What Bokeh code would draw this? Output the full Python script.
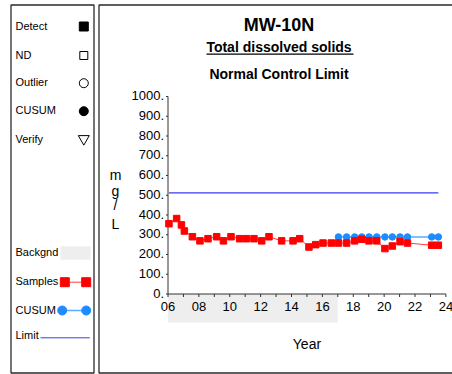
from bokeh.plotting import figure
from bokeh.models import Range1d
from bokeh.embed import file_html
from bokeh.resources import INLINE
from bokeh.core.properties import value

# ---------------- data ----------------
sample_years = [2006.06, 2006.56, 2006.87, 2007.06, 2007.58, 2008.07, 2008.59, 2009.15,
                2009.59, 2010.08, 2010.64, 2011.08, 2011.57, 2012.07, 2012.54, 2013.36,
                2014.10, 2014.53, 2015.13, 2015.57, 2016.04, 2016.58, 2017.04, 2017.57,
                2018.09, 2018.55, 2019.02, 2019.52, 2020.05, 2020.53, 2021.03, 2021.51,
                2023.08, 2023.51]
sample_values = [356, 382, 350, 319, 290, 269, 280, 290,
                 269, 290, 280, 280, 280, 269, 290, 269,
                 269, 280, 238, 250, 258, 258, 258, 258,
                 269, 277, 269, 269, 230, 243, 265, 258,
                 247, 247]
cusum_years = [2017.04, 2017.57, 2018.09, 2018.55, 2019.02, 2019.52, 2020.05, 2020.53,
               2021.03, 2021.51, 2023.08, 2023.51]
cusum_values = [289, 289, 289, 289, 289, 289, 289, 289, 289, 289, 289, 289]
limit_years = [2006.06, 2023.51]
limit_values = [512, 512]
background_period = [2006.0, 2017.0]

x_ticks = [2006, 2008, 2010, 2012, 2014, 2016, 2018, 2020, 2022, 2024]
x_tick_labels = ["06", "08", "10", "12", "14", "16", "18", "20", "22", "24"]
x_minor_ticks = [2007, 2009, 2011, 2013, 2015, 2017, 2019, 2021, 2023]
y_ticks = [0, 100, 200, 300, 400, 500, 600, 700, 800, 900, 1000]
y_tick_labels = ["0.", "100.", "200.", "300.", "400.", "500.", "600.", "700.", "800.", "900.", "1000."]

title_text = "MW-10N"
subtitle_text = "Total dissolved solids"
method_text = "Normal Control Limit"
x_label = "Year"
y_label_chars = ["m", "g", "/", "L"]

legend_top_labels = ["Detect", "ND", "Outlier", "CUSUM", "Verify"]
legend_bottom_labels = ["Backgnd", "Samples", "CUSUM", "Limit"]

# ---------------- styles / layout ----------------
FONT = "Liberation Sans"
RED = "#ff0000"
RED_LINE = "#ff3a3a"
BLUE = "#1e8cff"
BLUE_LINE = "#5aaaff"
LIMIT = "#3a3af0"
BOX = "#2a2a2a"
AXIS = "#333333"
BG = "#eeeeee"

W, H = 452, 374
X0_PX, X1_PX = 167.5, 445.4   # pixel columns of x range ends (2006, 2024)
Y0_PX, Y1_PX = 293.5, 96.0    # pixel rows of y range ends (0, 1000)
XMIN, XMAX = x_ticks[0], x_ticks[-1]
YMIN, YMAX = y_ticks[0], y_ticks[-1]
kx = (X1_PX - X0_PX) / (XMAX - XMIN)
ky = (Y0_PX - Y1_PX) / (YMAX - YMIN)

p = figure(width=W, height=H,
           x_range=Range1d(XMIN - X0_PX / kx, XMIN + (W - X0_PX) / kx),
           y_range=Range1d(YMIN - (H - Y0_PX) / ky, YMIN + Y0_PX / ky),
           output_backend="svg", toolbar_location=None, min_border=0,
           x_axis_location=None, y_axis_location=None)
p.grid.visible = False
p.outline_line_color = None
p.background_fill_color = "white"
p.border_fill_color = "white"
p.extra_x_ranges = {"px": Range1d(0, W)}
p.extra_y_ranges = {"px": Range1d(H, 0)}
PX = dict(x_range_name="px", y_range_name="px")
TXT = dict(text_font=value(FONT), text_color="black", text_baseline="middle")

# ---- panel boxes ----
p.quad(left=[10.5], right=[93.5], top=[4.5], bottom=[372.5], fill_color=None,
       line_color=BOX, line_width=1.3, **PX)
p.quad(left=[98.5], right=[470], top=[4.5], bottom=[372.5], fill_color=None,
       line_color=BOX, line_width=1.3, **PX)

# ---- legend panel ----
top_y = [26, 55, 82.7, 110.7, 139.3]
p.text(x=[15] * 5, y=[v - 1 for v in top_y], text=legend_top_labels,
       text_font_size="11px", **TXT, **PX)
mx = [83.3]
p.scatter(mx, [top_y[0]], marker="square", size=9, fill_color="black", line_color="black", **PX)
p.scatter(mx, [top_y[1]], marker="square", size=8, fill_color=None, line_color="black", **PX)
p.scatter(mx, [top_y[2]], marker="circle", size=9, fill_color=None, line_color="black", **PX)
p.scatter(mx, [top_y[3]], marker="circle", size=9, fill_color="black", line_color="black", **PX)
p.scatter(mx, [top_y[4] - 1], marker="inverted_triangle", size=11, fill_color=None,
          line_color="black", **PX)

bot_y = [252.3, 281.7, 310, 335]
p.text(x=[15] * 4, y=[v - 1 for v in bot_y], text=legend_bottom_labels,
       text_font_size="11px", **TXT, **PX)
p.quad(left=[60], right=[90], top=[245.7], bottom=[259.3], fill_color=BG, line_color=None, **PX)
p.line([64.3, 85.7], [281.7, 281.7], line_color=RED_LINE, line_width=1, **PX)
p.scatter([64.3, 85.7], [281.7, 281.7], marker="square", size=9, fill_color=RED,
          line_color=RED, **PX)
p.line([61.7, 85.7], [310, 310], line_color=BLUE_LINE, line_width=1.5, **PX)
p.scatter([61.7, 85.7], [310, 310], marker="circle", size=9, fill_color=BLUE,
          line_color=BLUE, **PX)
p.line([40, 89.3], [337.3, 337.3], line_color=LIMIT, line_width=1, **PX)

# ---- titles ----
TX = 278.5
p.text(x=[TX], y=[24.5], text=[title_text], text_font_size="18px",
       text_font_style="bold", text_align="center", **TXT, **PX)
p.text(x=[TX], y=[46.7], text=[subtitle_text], text_font_size="14px",
       text_font_style="bold", text_align="center", **TXT, **PX)
p.segment(x0=[206], y0=[53.6], x1=[353], y1=[53.6], line_color="black", line_width=1.3, **PX)
p.text(x=[TX], y=[73], text=[method_text], text_font_size="14px",
       text_font_style="bold", text_align="center", **TXT, **PX)

# ---- background band (x in data units, y in pixel rows under the axis) ----
p.quad(left=[background_period[0]], right=[background_period[1]], top=[Y0_PX], bottom=[322],
       fill_color=BG, line_color=None, y_range_name="px")

# ---- axes (drawn through the data scales) ----
n_y = len(y_ticks)
p.segment(x0=[XMIN], y0=[YMIN], x1=[XMIN], y1=[YMAX], line_color=AXIS, line_width=1)
p.segment(x0=[XMIN] * n_y, y0=y_ticks, x1=[XMIN - 2 / kx] * n_y, y1=y_ticks,
          line_color=AXIS, line_width=1)
p.text(x=[XMIN - 4 / kx] * n_y, y=[t + 1 / ky for t in y_ticks], text=y_tick_labels,
       text_font_size="13px", text_align="right", **TXT)

all_x_ticks = x_ticks + x_minor_ticks
n_x = len(all_x_ticks)
p.segment(x0=[XMIN], y0=[YMIN], x1=[XMAX], y1=[YMIN], line_color=AXIS, line_width=1)
p.segment(x0=all_x_ticks, y0=[YMIN] * n_x, x1=all_x_ticks, y1=[YMIN - 3 / ky] * n_x,
          line_color=AXIS, line_width=1)
p.text(x=x_ticks, y=[YMIN - 12.2 / ky] * len(x_ticks), text=x_tick_labels,
       text_font_size="13px", text_align="center", **TXT)

# axis titles
p.text(x=[(XMIN + XMAX) / 2], y=[343], text=[x_label], text_font_size="14px",
       text_align="center", **TXT, y_range_name="px")
p.text(x=[115] * 4, y=[174.3, 190.0, 204.5, 223.3], text=y_label_chars, text_font_size="14px",
       text_align="center", **TXT, **PX)

# ---- data ----
p.line(limit_years, limit_values, line_color=LIMIT, line_width=1.2)
p.line(sample_years, sample_values, line_color=RED_LINE, line_width=1)
p.line(cusum_years, cusum_values, line_color=BLUE_LINE, line_width=1.5)
p.scatter(cusum_years, cusum_values, marker="circle", size=6.5, fill_color=BLUE, line_color=BLUE)
p.scatter(sample_years, sample_values, marker="square", size=6.5, fill_color=RED, line_color=RED)

open("out.html", "w").write(file_html(p, INLINE))
